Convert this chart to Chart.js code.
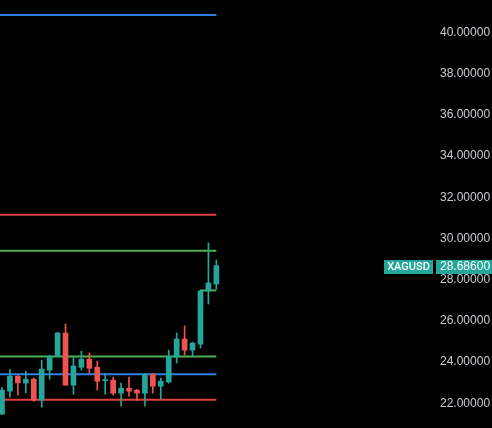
<!DOCTYPE html>
<html>
<head>
<meta charset="utf-8">
<script src="https://cdn.jsdelivr.net/npm/chart.js@4.4.1/dist/chart.umd.min.js"></script>
<style>
  html, body { margin: 0; padding: 0; background: #000; }
  #wrap { width: 492px; height: 428px; }
</style>
</head>
<body>
<div id="wrap"><canvas id="xagChart"></canvas></div>
<script>
// XAGUSD candles, values
const opens  = [21.48, 22.59, 23.32, 22.98, 23.17, 22.15, 23.61, 24.29, 25.41, 22.88, 23.75, 24.14, 23.75, 23.10,
                23.12, 22.49, 22.73, 22.64, 22.49, 23.41, 22.83, 23.03, 24.24, 25.12, 24.58, 24.87, 27.45, 27.79];
const highs  = [22.78, 23.64, 23.34, 23.56, 23.22, 24.09, 24.33, 25.45, 25.85, 24.24, 24.53, 24.44, 24.05, 23.46,
                23.27, 22.98, 23.27, 22.68, 23.46, 23.46, 23.22, 24.58, 25.41, 25.76, 24.97, 27.45, 29.79, 28.96];
const lows   = [21.45, 22.30, 22.39, 22.50, 22.10, 21.81, 23.17, 24.29, 22.88, 22.44, 23.61, 23.46, 22.64, 22.44,
                22.39, 21.86, 22.34, 22.15, 21.86, 22.49, 22.20, 22.98, 23.95, 24.34, 24.29, 24.68, 26.82, 27.55];
const closes = [22.64, 23.32, 22.99, 23.17, 22.15, 23.66, 24.29, 25.41, 22.88, 23.81, 24.14, 23.70, 23.07, 23.12,
                22.49, 22.73, 22.59, 22.49, 23.41, 22.83, 23.07, 24.29, 25.12, 24.58, 24.92, 27.45, 27.84, 28.686];

// horizontal levels
const levelValues = [40.85, 31.15, 29.40, 24.27, 23.41, 22.17];
const levelColors = ['#2f7fe8', '#e0413f', '#4caf50', '#4caf50', '#2f7fe8', '#e0413f'];
// short level near the last candles
const shortLevel = 27.48;

const yTicks = [22, 24, 26, 28, 30, 32, 34, 36, 38, 40];
const symbol = 'XAGUSD';

const upColor = '#26a69a';
const downColor = '#ef5350';
const candleColors = opens.map((o, i) => closes[i] >= o ? upColor : downColor);
const lastIdx = closes.length - 1;

const datasets = [];

levelValues.forEach((v, i) => {
    datasets.push({
        type: 'line',
        data: [{ x: -1, y: v }, { x: lastIdx, y: v }],
        borderColor: levelColors[i],
        borderWidth: 2,
        pointRadius: 0,
        fill: false,
        order: 3
    });
});

datasets.push({
    type: 'line',
    data: [{ x: lastIdx - 2.1, y: shortLevel }, { x: lastIdx, y: shortLevel }],
    borderColor: '#4caf50',
    borderWidth: 2,
    pointRadius: 0,
    fill: false,
    order: 3
});

// wicks
datasets.push({
    type: 'bar',
    data: lows.map((l, i) => ({ x: i, y: [l, highs[i]] })),
    backgroundColor: candleColors,
    barThickness: 1,
    grouped: false,
    order: 2
});

// bodies
datasets.push({
    type: 'bar',
    data: opens.map((o, i) => ({ x: i, y: [o, closes[i]] })),
    backgroundColor: candleColors,
    barThickness: 5,
    minBarLength: 1,
    grouped: false,
    order: 1
});

const lastTag = {
    id: 'lastTag',
    afterDraw(chart) {
        const { ctx, chartArea } = chart;
        const y = Math.round(chart.scales.y.getPixelForValue(closes[lastIdx]));
        ctx.save();
        ctx.fillStyle = upColor;
        ctx.fillRect(chartArea.right - 48, y - 6, 49, 14);
        ctx.fillRect(chartArea.right + 4, y - 6, chart.width - chartArea.right - 4, 14);
        ctx.fillStyle = '#ffffff';
        ctx.textBaseline = 'middle';
        ctx.textAlign = 'center';
        ctx.font = '500 11px Roboto';
        ctx.fillText(symbol, chartArea.right - 23.5, y + 1);
        ctx.textAlign = 'left';
        ctx.font = '12px "Liberation Sans", Arial, sans-serif';
        ctx.fillText(closes[lastIdx].toFixed(5), chartArea.right + 8, y + 1);
        ctx.restore();
    }
};

const xagChart = new Chart(document.getElementById('xagChart'), {
    type: 'bar',
    data: { datasets: datasets },
    options: {
        responsive: true,
        maintainAspectRatio: false,
        animation: false,
        layout: { padding: 0 },
        plugins: {
            legend: { display: false },
            tooltip: { enabled: false }
        },
        scales: {
            x: {
                type: 'linear',
                min: -0.252,
                max: 54.16,
                offset: false,
                display: false
            },
            y: {
                position: 'right',
                min: 20.80,
                max: 41.58,
                grid: { display: false, drawTicks: false },
                border: { display: false },
                afterBuildTicks: (scale) => {
                    scale.ticks = yTicks.map(v => ({ value: v }));
                },
                afterFit: (scale) => {
                    scale.width = 60;
                    scale.paddingTop = 0;
                    scale.paddingBottom = 0;
                },
                ticks: {
                    color: '#c9ccd3',
                    padding: 8,
                    font: { family: '"Liberation Sans", Arial, sans-serif', size: 12 },
                    callback: (v) => Number(v).toFixed(5)
                }
            }
        }
    },
    plugins: [lastTag]
});
</script>
</body>
</html>
